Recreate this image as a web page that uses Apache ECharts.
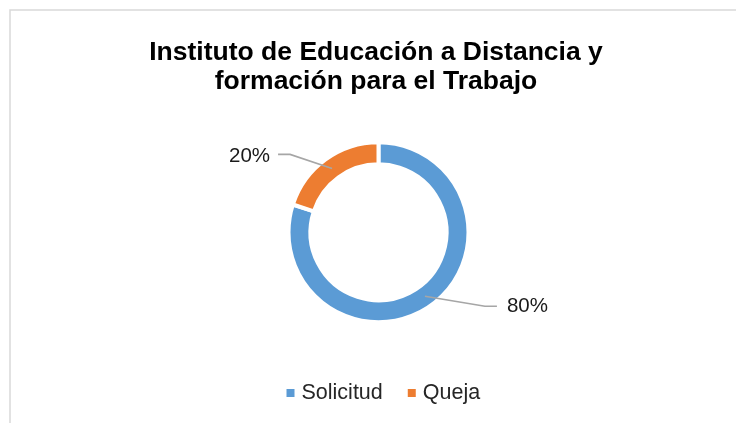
<!DOCTYPE html>
<html>
<head>
<meta charset="utf-8">
<script src="https://cdn.jsdelivr.net/npm/echarts@6/dist/echarts.min.js"></script>
<style>
html,body{margin:0;padding:0;background:#fff;}
#chart{width:736px;height:423px;}
</style>
</head>
<body>
<div id="chart"></div>
<script>
// Data
const titleLines = ['Instituto de Educación a Distancia y', 'formación para el Trabajo'];
const categories = ['Solicitud', 'Queja'];
const values = [80, 20];
const colors = ['#5b9bd5', '#ed7d31'];

const FONT = '"Liberation Sans", Arial, sans-serif';
const CENTER = [378.5, 232.3];
const RADIUS = [68, 90];
const LEADER_R = 79; // leader lines start mid-ring
const chart = echarts.init(document.getElementById('chart'), null, {renderer: 'canvas'});

function labelLayout(params) {
  const pts = params.labelLinePoints;
  if (!pts || pts.length < 2) return {};
  const p0 = pts[0], p1 = pts[1];
  const dx = p1[0] - p0[0], dy = p1[1] - p0[1];
  const len = Math.hypot(dx, dy) || 1;
  const ux = dx / len, uy = dy / len;
  const left = ux < 0;
  const s0 = [CENTER[0] + ux * LEADER_R, CENTER[1] + uy * LEADER_R];
  const off = left ? [-42, -14] : [60, 10];
  const s1 = [s0[0] + off[0], s0[1] + off[1]];
  const s2 = [s1[0] + (left ? -12 : 12), s1[1]];
  return {
    x: s2[0] + (left ? -8 : 10),
    y: s2[1] + (left ? 1.5 : 0.5),
    align: left ? 'right' : 'left',
    verticalAlign: 'middle',
    labelLinePoints: [s0, s1, s2]
  };
}

const seriesData = categories.map((c, i) => ({name: c, value: values[i]}));

chart.setOption({
  backgroundColor: '#ffffff',
  animation: false,
  color: colors,
  title: {
    text: titleLines.join('\n'),
    left: 371,
    top: 33,
    textAlign: 'center',
    textStyle: {
      fontFamily: FONT,
      fontWeight: 'bold',
      fontSize: 26.5,
      lineHeight: 29,
      color: '#000000'
    }
  },
  legend: {
    data: categories,
    left: 281.5,
    top: 377,
    itemWidth: 8,
    itemHeight: 8,
    itemGap: 25,
    icon: 'rect',
    itemStyle: {borderWidth: 0},
    textStyle: {
      fontFamily: FONT,
      fontSize: 21.5,
      color: '#262626',
      padding: [0, 0, 0, 2]
    }
  },
  graphic: [{
    type: 'rect',
    shape: {x: 10, y: 10, width: 760, height: 440},
    style: {fill: 'none', stroke: '#d9d9d9', lineWidth: 1.5},
    silent: true,
    z: -1
  }],
  series: [{
    // the ring
    type: 'pie',
    z: 2,
    center: CENTER,
    radius: RADIUS,
    startAngle: 90,
    clockwise: true,
    itemStyle: {borderColor: '#ffffff', borderWidth: 4},
    label: {show: false},
    labelLine: {show: false},
    emphasis: {disabled: true},
    data: seriesData
  }, {
    // overlay carrying the data labels and leader lines above the ring
    type: 'pie',
    z: 3,
    silent: true,
    legendHoverLink: false,
    center: CENTER,
    radius: RADIUS,
    startAngle: 90,
    clockwise: true,
    avoidLabelOverlap: false,
    itemStyle: {color: 'rgba(0,0,0,0)', borderWidth: 0},
    label: {
      show: true,
      formatter: '{c}%',
      fontFamily: FONT,
      fontSize: 20.5,
      color: '#1a1a1a'
    },
    labelLine: {
      show: true,
      length: 20,
      length2: 12,
      lineStyle: {color: '#a6a6a6', width: 1.6}
    },
    emphasis: {disabled: true},
    labelLayout: labelLayout,
    data: seriesData
  }]
});
</script>
</body>
</html>
